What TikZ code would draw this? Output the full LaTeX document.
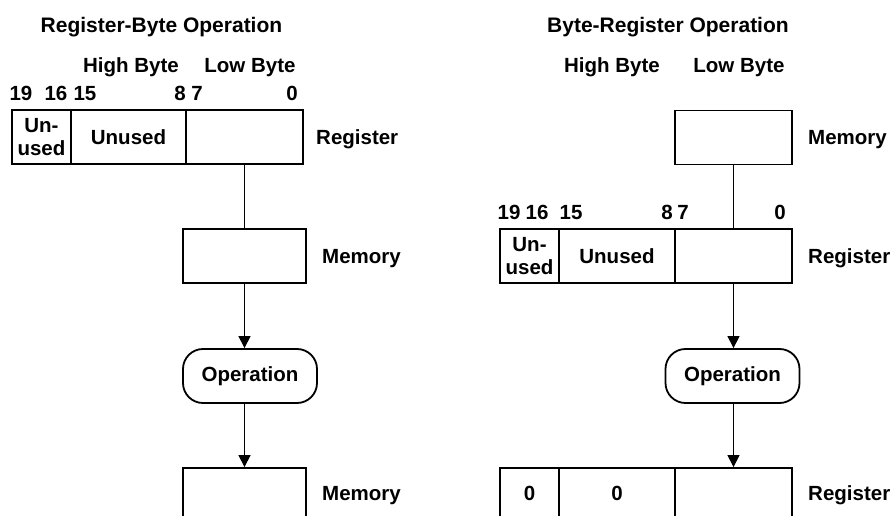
\documentclass[tikz,border=0pt]{standalone}
\usepackage{fontspec}
\setmainfont{Liberation Sans}
\usetikzlibrary{arrows.meta}
\begin{document}
\begin{tikzpicture}[x=1pt,y=-1pt,
  font=\fontsize{20.5}{23}\selectfont\bfseries,
  cell/.style={draw,line width=1.8pt,minimum height=54pt,inner sep=0pt,align=center},
  opbox/.style={draw,line width=1.8pt,rounded corners=20pt,minimum width=134pt,minimum height=54pt,inner sep=0pt},
  lbl/.style={inner sep=0pt,text height=15pt,text depth=0pt},
  conn/.style={line width=1.2pt},
  arr/.style={line width=1.2pt,-{Triangle[width=12pt,length=12pt]}}]
\useasboundingbox (0,0) rectangle (895,516);

% ---------- left: Register-Byte Operation ----------
\node[lbl,font=\fontsize{21}{23}\selectfont\bfseries] (ltitle) at (161.5,25) {Register-Byte Operation};
\node[lbl] (lhigh) at (131,65) {High Byte};
\node[lbl] (llow) at (250,65) {Low Byte};
\node[lbl] (lb19) at (21,93) {19};
\node[lbl] (lb16) at (56,93) {16};
\node[lbl] (lb15) at (85,93) {15};
\node[lbl] (lb8) at (180,93) {8};
\node[lbl] (lb7) at (197,93) {7};
\node[lbl] (lb0) at (292,93) {0};

\node[cell,minimum width=59pt] (lr1) at (41.5,137) {Un-\\used};
\node[cell,minimum width=115pt] (lr2) at (128.5,137) {Unused};
\node[cell,minimum width=117pt] (lr3) at (244.5,137) {};
\node[lbl,anchor=west] (lrlab) at (316,137) {Register};

\node[cell,minimum width=123pt] (lm) at (244.5,256) {};
\node[lbl,anchor=west] (lmlab) at (322,256) {Memory};

\node[opbox] (lop) at (250,376) {Operation};

\node[cell,minimum width=123pt] (lb) at (244.5,495) {};
\node[lbl,anchor=west] (lblab) at (322,493) {Memory};

\draw[conn] (lr3.south) -- (lm.north);
\draw[arr] (lm.south) -- (lm.south |- lop.north);
\draw[arr] (lm.south |- lop.south) -- (lb.north);

% ---------- right: Byte-Register Operation ----------
\node[lbl,font=\fontsize{21}{23}\selectfont\bfseries] (rtitle) at (668,25) {Byte-Register Operation};
\node[lbl] (rhigh) at (612,65) {High Byte};
\node[lbl] (rlow) at (739,65) {Low Byte};

\node[cell,minimum width=117pt] (rm) at (733.5,137.5) {};
\node[lbl,anchor=west] (rmlab) at (808,137) {Memory};

\node[lbl] (rb19) at (509,212) {19};
\node[lbl] (rb16) at (537,212) {16};
\node[lbl] (rb15) at (571,212) {15};
\node[lbl] (rb8) at (667,212) {8};
\node[lbl] (rb7) at (683,212) {7};
\node[lbl] (rb0) at (780,212) {0};

\node[cell,minimum width=59pt] (rr1) at (529.5,256) {Un-\\used};
\node[cell,minimum width=116pt] (rr2) at (617,256) {Unused};
\node[cell,minimum width=117pt] (rr3) at (733.5,256) {};
\node[lbl,anchor=west] (rrlab) at (808,256) {Register};

\node[opbox] (rop) at (732.5,376) {Operation};

\node[cell,minimum width=59pt] (rb1) at (529.5,495) {};
\node[lbl] (rb1t) at (529.5,493) {0};
\node[cell,minimum width=116pt] (rb2) at (617,495) {};
\node[lbl] (rb2t) at (617,493) {0};
\node[cell,minimum width=117pt] (rb3) at (733.5,495) {};
\node[lbl,anchor=west] (rblab) at (808,493) {Register};

\draw[conn] (rm.south) -- (rr3.north);
\draw[arr] (rr3.south) -- (rr3.south |- rop.north);
\draw[arr] (rr3.south |- rop.south) -- (rb3.north);
\end{tikzpicture}
\end{document}
